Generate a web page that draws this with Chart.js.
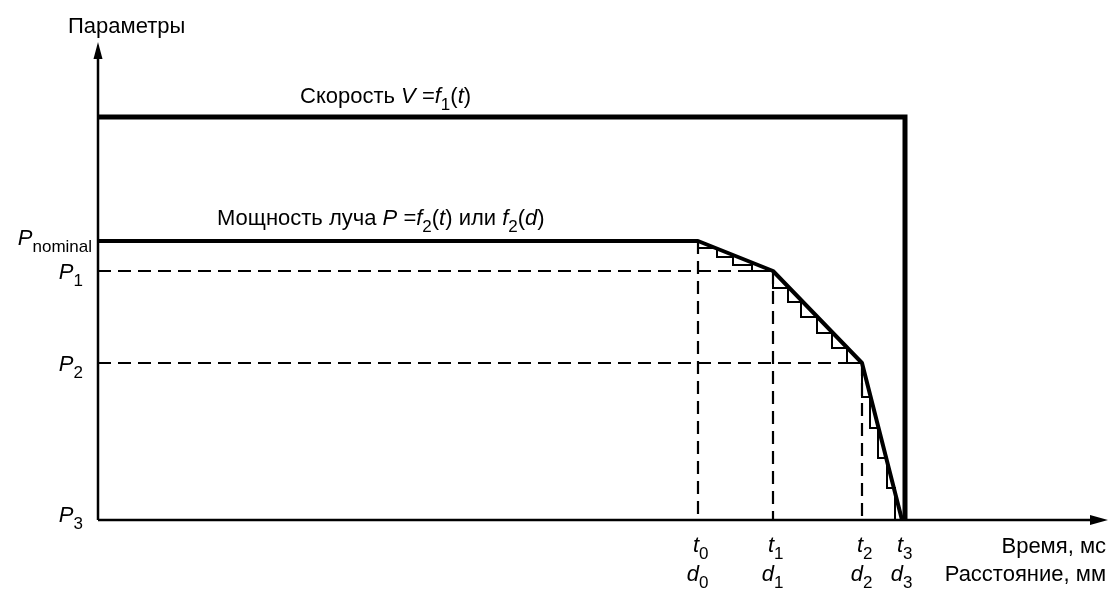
<!DOCTYPE html>
<html>
<head>
<meta charset="utf-8">
<script src="https://cdn.jsdelivr.net/npm/chart.js@4/dist/chart.umd.min.js"></script>
<style>
    body { margin: 0; background: #fff; }
    #wrap { width: 1112px; height: 590px; }
</style>
</head>
<body>
<div id="wrap"><canvas id="chart" width="1112" height="590"></canvas></div>
<script>
// Chart values (arbitrary units, axis origin = 0)
const velocityT = [0, 807, 807];
const velocityV = [403, 403, 0];

const powerT = [0, 600, 675, 764, 804];
const powerP = [279, 279, 249, 157, 0];

// levels on the y axis: P nominal, P1, P2, P3
const levelValues = [279, 249, 157, 0];
const levelSubs = ['nominal', '1', '2', '3'];

// marks on the x axis: t0/d0 .. t3/d3
const timeValues = [600, 675, 764, 804];
const timeSubs = ['0', '1', '2', '3'];

// staircase approximation of the power curve
const step1T = [600, 619, 635, 654, 675];
const step1P = [279, 272, 263, 255, 249];
const step2T = [675, 690, 703, 719, 734, 749, 764];
const step2P = [249, 232, 218, 203, 187, 172, 157];
const step3T = [764, 772, 780, 789, 797, 804];
const step3P = [157, 123, 92, 62, 32, 0];

const xMax = 1010;
const yMax = 478;

const FONT = '"Liberation Sans", Arial, sans-serif';
const MAIN = 22;
const SUB = 17;

function pts(xs, ys) {
    return xs.map((x, i) => ({ x: x, y: ys[i] }));
}

function lineSet(data, width, extra) {
    return Object.assign({
        data: data,
        borderColor: '#000',
        borderWidth: width,
        showLine: true,
        pointRadius: 0,
        tension: 0,
        fill: false,
        clip: false
    }, extra || {});
}

// Build datasets
const datasets = [];

// dashed guide lines
for (let i = 1; i < powerT.length - 1; i++) {
    datasets.push(lineSet([{ x: powerT[i], y: powerP[i] }, { x: powerT[i], y: 0 }], 2.2, { borderDash: [13, 7] }));
    if (i > 1) {
        datasets.push(lineSet([{ x: 0, y: powerP[i] }, { x: powerT[i], y: powerP[i] }], 2.2, { borderDash: [13, 7] }));
    }
}

// staircase
[[step1T, step1P], [step2T, step2P], [step3T, step3P]].forEach(s => {
    datasets.push(lineSet(pts(s[0], s[1]), 2, { stepped: 'after' }));
});

datasets.push(lineSet(pts(powerT, powerP), 4, { borderJoinStyle: 'round' }));
datasets.push(lineSet(pts(velocityT, velocityV), 5, { borderJoinStyle: 'miter' }));

// draws a string made of pieces: [text, style] style: '' upright, 'i' italic, 's' subscript
function drawRich(ctx, parts, x, y, align) {
    const fontFor = s => (s === 'i' ? 'italic ' : '') + (s === 's' ? SUB : MAIN) + 'px ' + FONT;
    let w = 0;
    parts.forEach(p => {
        ctx.font = fontFor(p[1]);
        w += ctx.measureText(p[0]).width;
    });
    let cx = align === 'right' ? x - w : (align === 'center' ? x - w / 2 : x);
    parts.forEach(p => {
        ctx.font = fontFor(p[1]);
        ctx.fillText(p[0], cx, y + (p[1] === 's' ? 7 : 0));
        cx += ctx.measureText(p[0]).width;
    });
}

const diagramPlugin = {
    id: 'diagram',
    afterDatasetsDraw(chart) {
        const ctx = chart.ctx;
        const xs = chart.scales.x;
        const ys = chart.scales.y;
        const x0 = xs.getPixelForValue(0);
        const y0 = ys.getPixelForValue(0);
        const xEnd = xs.getPixelForValue(xMax);
        const yEnd = ys.getPixelForValue(yMax);

        ctx.save();
        ctx.strokeStyle = '#000';
        ctx.fillStyle = '#000';
        ctx.lineWidth = 2.5;

        // axes
        ctx.beginPath();
        ctx.moveTo(x0, y0);
        ctx.lineTo(x0, yEnd + 12);
        ctx.moveTo(x0, y0);
        ctx.lineTo(xEnd - 12, y0);
        ctx.stroke();

        // arrow heads
        ctx.beginPath();
        ctx.moveTo(x0, yEnd);
        ctx.lineTo(x0 - 4.5, yEnd + 17);
        ctx.lineTo(x0 + 4.5, yEnd + 17);
        ctx.closePath();
        ctx.fill();
        ctx.beginPath();
        ctx.moveTo(xEnd, y0);
        ctx.lineTo(xEnd - 18, y0 - 5);
        ctx.lineTo(xEnd - 18, y0 + 5);
        ctx.closePath();
        ctx.fill();

        ctx.textBaseline = 'alphabetic';

        // titles
        drawRich(ctx, [['Параметры', '']], x0 - 30, 33, 'left');
        drawRich(ctx, [['Скорость ', ''], ['V', 'i'], [' =', ''], ['f', 'i'], ['1', 's'], ['(', ''], ['t', 'i'], [')', '']],
            xs.getPixelForValue(202), ys.getPixelForValue(velocityV[0]) - 14, 'left');
        drawRich(ctx, [['Мощность луча ', ''], ['P', 'i'], [' =', ''], ['f', 'i'], ['2', 's'], ['(', ''], ['t', 'i'],
            [') или ', ''], ['f', 'i'], ['2', 's'], ['(', ''], ['d', 'i'], [')', '']],
            xs.getPixelForValue(119), ys.getPixelForValue(powerP[0]) - 16, 'left');

        // y labels
        const yOff = [4, 8, 8, 2];
        const yRight = [92, 83, 83, 83];
        levelValues.forEach((v, i) => {
            drawRich(ctx, [['P', 'i'], [levelSubs[i], 's']], yRight[i], ys.getPixelForValue(v) + yOff[i], 'right');
        });

        // x labels
        timeValues.forEach((v, i) => {
            const px = xs.getPixelForValue(v) + 1;
            ctx.font = 'italic ' + MAIN + 'px ' + FONT;
            ctx.textAlign = 'right';
            ctx.fillText('t', px, 552);
            ctx.fillText('d', px, 581);
            ctx.font = SUB + 'px ' + FONT;
            ctx.textAlign = 'left';
            ctx.fillText(timeSubs[i], px, 559);
            ctx.fillText(timeSubs[i], px, 588);
        });

        ctx.font = MAIN + 'px ' + FONT;
        ctx.textAlign = 'right';
        ctx.fillText('Время, мс', 1106, 553);
        ctx.fillText('Расстояние, мм', 1106, 581);
        ctx.restore();
    }
};

new Chart(document.getElementById('chart'), {
    type: 'scatter',
    data: { datasets: datasets },
    options: {
        responsive: false,
        animation: false,
        layout: { padding: { left: 98, right: 4, top: 42, bottom: 70 } },
        plugins: {
            legend: { display: false },
            tooltip: { enabled: false }
        },
        scales: {
            x: { type: 'linear', min: 0, max: xMax, display: false },
            y: { type: 'linear', min: 0, max: yMax, display: false }
        }
    },
    plugins: [diagramPlugin]
});
</script>
</body>
</html>
